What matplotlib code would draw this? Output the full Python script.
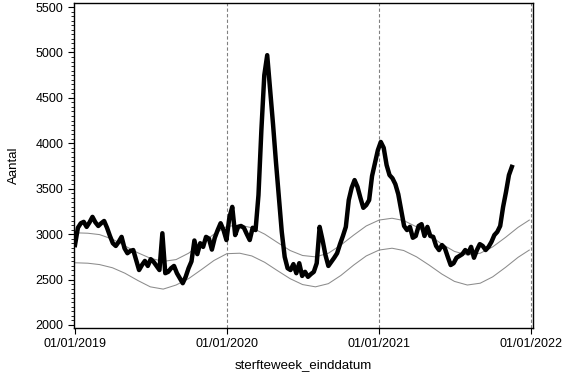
import numpy as np
import pandas as pd
import matplotlib
matplotlib.use("Agg")
import matplotlib.pyplot as plt
import matplotlib.dates as mdates
import matplotlib.ticker as ticker

plt.rcParams["font.family"] = ["Liberation Sans", "DejaVu Sans"]

# ── Data ──────────────────────────────────────────────────────────────────────
# weekly deaths, one value per week starting 01/01/2019
deaths = [
    2880, 3070, 3120, 3135, 3080, 3130, 3190, 3130, 3090, 3120,
    3145, 3070, 2980, 2900, 2870, 2915, 2970, 2845, 2790, 2815,
    2825, 2715, 2605, 2660, 2705, 2650, 2725, 2695, 2650, 2605,
    3010, 2570, 2585, 2625, 2650, 2570, 2515, 2460, 2530, 2625,
    2700, 2930, 2780, 2900, 2860, 2970, 2950, 2830, 2960, 3045,
    3120, 3045, 2935, 3180, 3300, 2990, 3080, 3090, 3070, 3000,
    2935, 3070, 3045, 3430, 4145, 4750, 4970, 4585, 4210, 3795,
    3410, 3025, 2750, 2625, 2605, 2670, 2570, 2680, 2540, 2585,
    2530, 2560, 2585, 2680, 3080, 2935, 2770, 2650, 2695, 2740,
    2790, 2890, 2980, 3080, 3375, 3510, 3595, 3520, 3400, 3290,
    3320, 3375, 3640, 3780, 3925, 4015, 3950, 3760, 3650, 3615,
    3550, 3440, 3265, 3090, 3045, 3080, 2960, 2980, 3090, 3110,
    2980, 3080, 2980, 2970, 2870, 2825, 2880, 2845, 2750, 2660,
    2680, 2740, 2760, 2780, 2825, 2790, 2860, 2740, 2825, 2890,
    2870, 2825, 2860, 2915, 2990, 3025, 3090, 3300, 3465, 3650,
    3740,
]
week_dates = pd.date_range("2019-01-01", periods=len(deaths), freq="7D")

# expected-mortality band, monthly readings
band_dates = pd.to_datetime(
    [f"{y}-{m:02d}-01" for y in (2019, 2020, 2021) for m in range(1, 13)]
    + ["2021-12-28"]
)
band_upper = [
    3015, 3010, 2995, 2945, 2870, 2795, 2735, 2700, 2720, 2790, 2895, 3000,
    3085, 3100, 3070, 3000, 2910, 2820, 2765, 2750, 2790, 2880, 2990, 3090,
    3155, 3175, 3150, 3080, 2990, 2890, 2810, 2770, 2790, 2860, 2965, 3075,
    3155,
]
band_lower = [
    2685, 2680, 2665, 2630, 2570, 2490, 2420, 2395, 2440, 2510, 2610, 2710,
    2785, 2790, 2760, 2690, 2600, 2510, 2445, 2420, 2455, 2545, 2660, 2760,
    2825, 2845, 2820, 2750, 2660, 2560, 2480, 2440, 2460, 2530, 2635, 2745,
    2825,
]

year_ticks = pd.to_datetime(["2019-01-01", "2020-01-01", "2021-01-01", "2022-01-01"])

# ── Plot ──────────────────────────────────────────────────────────────────────
fig = plt.figure(figsize=(5.67, 3.78), dpi=100)
ax = fig.add_axes([0.1305, 0.1323, 0.8095, 0.8597])

for d in year_ticks[1:]:
    ax.axvline(d, color="#808080", linestyle=(0, (3, 2)), linewidth=0.8, zorder=1)

ax.plot(band_dates, band_upper, color="#8c8c8c", linewidth=0.75, zorder=2)
ax.plot(band_dates, band_lower, color="#8c8c8c", linewidth=0.75, zorder=2)
ax.plot(week_dates, deaths, color="black", linewidth=3.2,
        solid_joinstyle="round", zorder=3)

x0 = mdates.date2num(pd.Timestamp("2019-01-01"))
x1 = mdates.date2num(pd.Timestamp("2022-01-01"))
ax.set_xlim(x0 - 2.4, x1 + 4.8)
ax.set_ylim(1967, 5544)

ax.set_xticks(year_ticks)
ax.xaxis.set_major_formatter(mdates.DateFormatter("%d/%m/%Y"))
ax.yaxis.set_major_locator(ticker.MultipleLocator(500))
ax.yaxis.set_minor_locator(ticker.MultipleLocator(50))

ax.tick_params(axis="both", which="major", direction="out", length=4,
               width=0.8, labelsize=9, colors="black")
ax.tick_params(axis="y", which="minor", direction="out", length=2, width=0.6)

for spine in ax.spines.values():
    spine.set_linewidth(1.0)
    spine.set_color("black")

ax.set_xlabel("sterfteweek_einddatum", fontsize=9.5, labelpad=6)
ax.set_ylabel("Aantal", fontsize=9.5, labelpad=11)

fig.savefig("out.png", dpi=100, facecolor="white")
plt.close(fig)
